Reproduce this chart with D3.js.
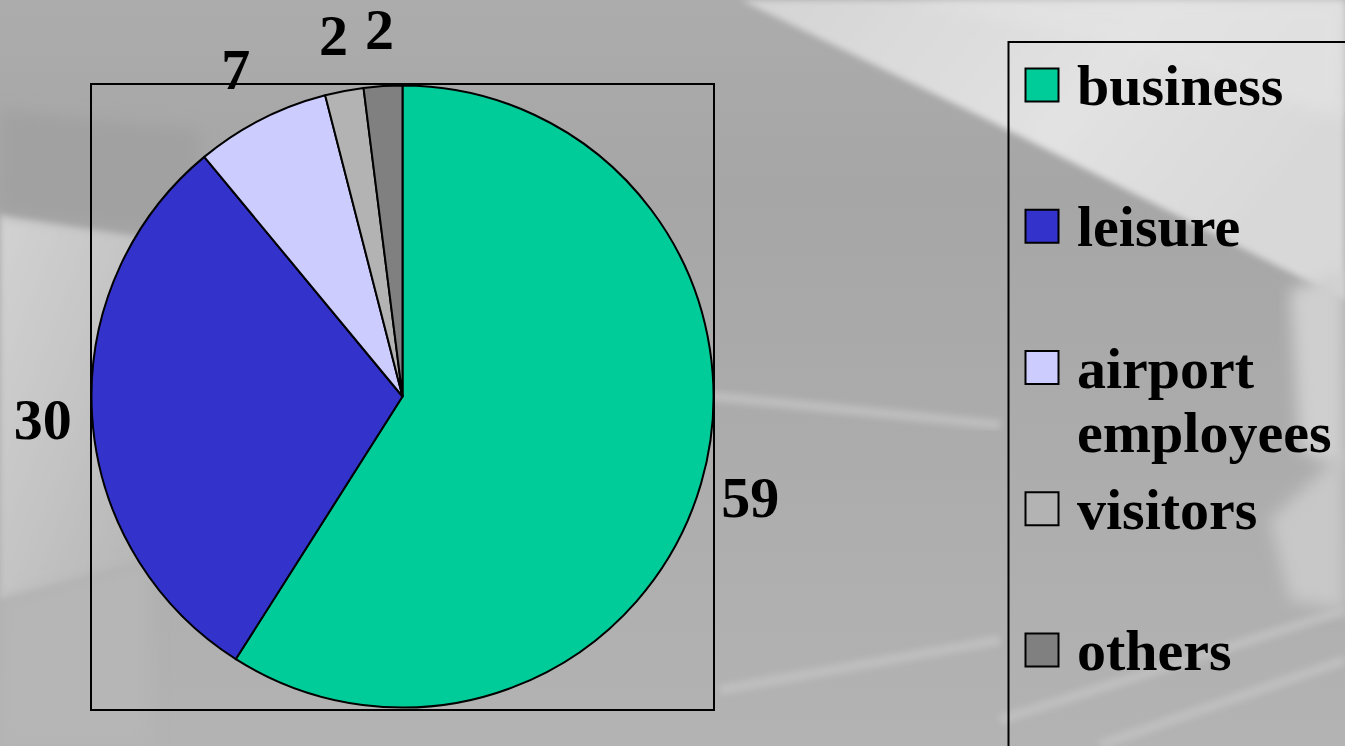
<!DOCTYPE html>
<html>
<head>
<meta charset="utf-8">
<script src="https://cdn.jsdelivr.net/npm/d3@7"></script>
<style>
  html, body { margin: 0; padding: 0; background: #ababab; overflow: hidden; }
  svg { display: block; }
</style>
</head>
<body>
<svg id="chart" width="1345" height="746"></svg>
<script>
// ---- data ----
const categories = ["business", "leisure", "airport employees", "visitors", "others"];
const values = [59, 30, 7, 2, 2];
const colors = ["#00CC99", "#3333CC", "#CCCCFF", "#B3B3B3", "#808080"];
const legendLines = [["business"], ["leisure"], ["airport", "employees"], ["visitors"], ["others"]];

const W = 1345, H = 746;
const svg = d3.select("#chart");
const defs = svg.append("defs");

// ---- background (photographic grey backdrop, approximated) ----
defs.append("filter").attr("id", "blur8").attr("x", "-20%").attr("y", "-20%").attr("width", "140%").attr("height", "140%")
  .append("feGaussianBlur").attr("stdDeviation", 8);
defs.append("filter").attr("id", "blur3").attr("x", "-20%").attr("y", "-20%").attr("width", "140%").attr("height", "140%")
  .append("feGaussianBlur").attr("stdDeviation", 3);

const gBase = defs.append("linearGradient").attr("id", "gBase").attr("x1", 0).attr("y1", 0).attr("x2", 0).attr("y2", 1);
gBase.append("stop").attr("offset", "0").attr("stop-color", "#acacac");
gBase.append("stop").attr("offset", "0.25").attr("stop-color", "#a6a6a6");
gBase.append("stop").attr("offset", "0.6").attr("stop-color", "#acacac");
gBase.append("stop").attr("offset", "1").attr("stop-color", "#b3b3b3");

const gLeft = defs.append("linearGradient").attr("id", "gLeft").attr("x1", 0).attr("y1", 0).attr("x2", 1).attr("y2", 1);
gLeft.append("stop").attr("offset", "0").attr("stop-color", "#d2d2d2");
gLeft.append("stop").attr("offset", "0.5").attr("stop-color", "#c4c4c4");
gLeft.append("stop").attr("offset", "1").attr("stop-color", "#b4b4b4");

const gTR = defs.append("linearGradient").attr("id", "gTR").attr("x1", 0).attr("y1", 0).attr("x2", 1).attr("y2", 0.4);
gTR.append("stop").attr("offset", "0").attr("stop-color", "#d4d4d4");
gTR.append("stop").attr("offset", "0.6").attr("stop-color", "#e2e2e2");
gTR.append("stop").attr("offset", "1").attr("stop-color", "#d8d8d8");

const bg = svg.append("g").attr("class", "background");
bg.append("rect").attr("width", W).attr("height", H).attr("fill", "url(#gBase)");
// light wedge at left
bg.append("path").attr("d", "M0,214 L150,238 L150,560 L0,600 Z").attr("fill", "url(#gLeft)").attr("filter", "url(#blur3)");
bg.append("path").attr("d", "M0,600 L150,560 L150,746 L0,746 Z").attr("fill", "#b6b6b6").attr("filter", "url(#blur8)");
// dark band above light wedge
bg.append("path").attr("d", "M0,110 L200,130 L200,236 L0,212 Z").attr("fill", "#a1a1a1").attr("filter", "url(#blur8)");
// light diagonal area top right
bg.append("path").attr("d", "M741,0 L1345,0 L1345,300 L988,120 Z").attr("fill", "url(#gTR)").attr("filter", "url(#blur3)");
bg.append("path").attr("d", "M900,0 L1345,0 L1345,120 L1100,40 Z").attr("fill", "#e4e4e4").attr("opacity", 0.6).attr("filter", "url(#blur8)");
// light patch at right edge
bg.append("path").attr("d", "M1290,290 L1345,270 L1345,470 L1300,450 Z").attr("fill", "#cfcfcf").attr("filter", "url(#blur8)");
bg.append("path").attr("d", "M1270,520 L1345,450 L1345,610 L1290,600 Z").attr("fill", "#c8c8c8").attr("filter", "url(#blur8)");
// streaks
const streaks = [
  "M700,395 L1000,425",
  "M720,690 L1000,640",
  "M1000,720 L1345,610",
  "M1100,745 L1345,660"
];
bg.selectAll("path.streak").data(streaks).join("path").attr("class", "streak")
  .attr("d", d => d).attr("stroke", "#c2c2c2").attr("stroke-width", 10)
  .attr("fill", "none").attr("opacity", 0.8).attr("filter", "url(#blur3)");

// ---- plot area ----
const plot = { x0: 91, y0: 84, x1: 714, y1: 710 };
svg.append("rect")
  .attr("x", plot.x0).attr("y", plot.y0)
  .attr("width", plot.x1 - plot.x0).attr("height", plot.y1 - plot.y0)
  .attr("fill", "none").attr("stroke", "#000").attr("stroke-width", 2);

const cx = (plot.x0 + plot.x1) / 2, cy = (plot.y0 + plot.y1) / 2 - 0.5;
const r = 311;

const pie = d3.pie().sort(null).value(d => d.v);
const arcs = pie(values.map((v, i) => ({ v, i })));
const arc = d3.arc().innerRadius(0).outerRadius(r);

const pg = svg.append("g").attr("transform", `translate(${cx},${cy})`);
pg.selectAll("path.slice").data(arcs).join("path").attr("class", "slice")
  .attr("d", arc)
  .attr("fill", d => colors[d.data.i])
  .attr("stroke", "#000").attr("stroke-width", 2).attr("stroke-linejoin", "round");

// ---- data labels ----
const fontFamily = "'Liberation Serif', 'Times New Roman', serif";
const fs = 58;
pg.selectAll("text.lbl").data(arcs).join("text").attr("class", "lbl")
  .each(function (d) {
    const a = (d.startAngle + d.endAngle) / 2;
    const dist = 360 + 8 * Math.abs(Math.cos(a));
    const x = Math.sin(a) * dist;
    const y = -Math.cos(a) * dist;
    d3.select(this).attr("x", x).attr("y", y + fs * 0.338);
  })
  .attr("text-anchor", "middle")
  .attr("font-family", fontFamily).attr("font-weight", "bold").attr("font-size", fs)
  .attr("fill", "#000")
  .text(d => d.data.v);

// ---- legend ----
const lg = svg.append("g").attr("class", "legend");
lg.append("rect").attr("x", 1008.5).attr("y", 42).attr("width", 400).attr("height", 800)
  .attr("fill", "none").attr("stroke", "#000").attr("stroke-width", 2);

const ly = d3.scaleLinear().domain([0, categories.length - 1]).range([85, 650]);
const items = lg.selectAll("g.item").data(categories).join("g").attr("class", "item")
  .attr("transform", (d, i) => `translate(0,${ly(i)})`);
items.append("rect").attr("x", 1025.5).attr("y", -16.5).attr("width", 33).attr("height", 33)
  .attr("fill", (d, i) => colors[i]).attr("stroke", "#000").attr("stroke-width", 2);
items.append("text")
  .attr("x", 1077).attr("y", 20)
  .attr("font-family", fontFamily).attr("font-weight", "bold").attr("font-size", fs)
  .attr("fill", "#000")
  .each(function (d, i) {
    const t = d3.select(this);
    legendLines[i].forEach((line, k) => {
      t.append("tspan").attr("x", 1077).attr("dy", k === 0 ? 0 : 64).text(line);
    });
  });
</script>
</body>
</html>
